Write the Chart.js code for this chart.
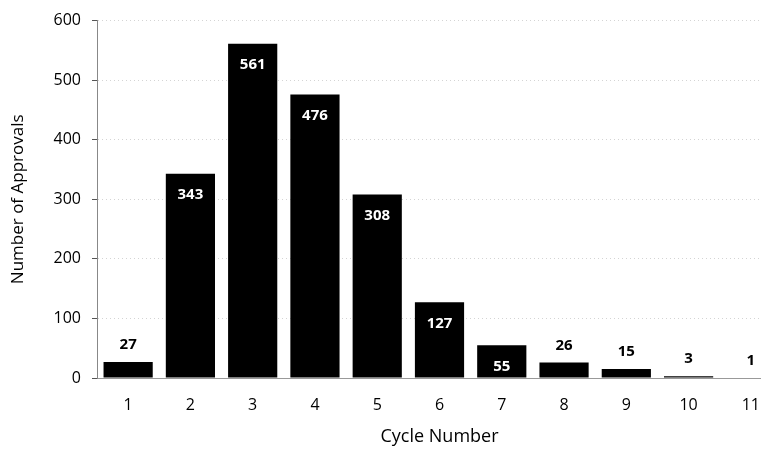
<!DOCTYPE html>
<html>
<head>
<meta charset="utf-8">
<script src="https://cdn.jsdelivr.net/npm/chart.js@4/dist/chart.umd.min.js"></script>
<style>
  html, body { margin: 0; padding: 0; background: #fff; overflow: hidden; }
  #wrap { width: 761px; height: 450px; overflow: hidden; }
  #box { width: 782px; height: 450px; }
</style>
</head>
<body>
<div id="wrap"><div id="box"><canvas id="c"></canvas></div></div>
<script>
// Approvals per cycle
const cycles = ['1', '2', '3', '4', '5', '6', '7', '8', '9', '10', '11'];
const approvals = [27, 343, 561, 476, 308, 127, 55, 26, 15, 3, 1];
const yTicks = [0, 100, 200, 300, 400, 500, 600];

const FONT = "'Open Sans', 'Liberation Sans', sans-serif";

// Value labels: white inside tall bars, black above short ones
const valueLabels = {
  id: 'valueLabels',
  afterDatasetsDraw(chart) {
    const ctx = chart.ctx;
    const meta = chart.getDatasetMeta(0);
    ctx.save();
    ctx.font = "bold 15px " + FONT;
    ctx.textAlign = 'center';
    ctx.textBaseline = 'middle';
    meta.data.forEach((bar, i) => {
      const v = approvals[i];
      if (v >= 50) {
        ctx.fillStyle = '#ffffff';
        ctx.fillText(String(v), bar.x, bar.y + 21);
      } else {
        ctx.fillStyle = '#000000';
        ctx.fillText(String(v), bar.x, bar.y - 17);
      }
    });
    ctx.restore();
  }
};

new Chart(document.getElementById('c'), {
  type: 'bar',
  data: {
    labels: cycles,
    datasets: [{
      data: approvals,
      backgroundColor: '#000000',
      borderWidth: 0,
      categoryPercentage: 1.0,
      barPercentage: 0.79
    }]
  },
  options: {
    responsive: true,
    maintainAspectRatio: false,
    animation: false,
    layout: { padding: { top: 19, right: 0, left: 0, bottom: 0 } },
    plugins: { legend: { display: false }, tooltip: { enabled: false } },
    scales: {
      x: {
        afterFit(axis) { axis.height = 72; },
        grid: { display: false, drawTicks: false },
        border: { display: true, color: '#999', width: 1, dash: [2, 3] },
        ticks: { color: '#000', padding: 18, font: { family: FONT, size: 16 } },
        title: { display: true, text: 'Cycle Number', color: '#000', padding: { top: 0, bottom: 2 },
                 font: { family: FONT, size: 18 } }
      },
      y: {
        min: 0, max: 600,
        afterBuildTicks(axis) { axis.ticks = yTicks.map(v => ({ value: v })); },
        afterFit(axis) { axis.width = 97; },
        grid: { color: '#d4d4d4', lineWidth: 1, tickLength: 5, tickColor: '#555',
                tickBorderDash: [], borderDash: [1, 5] },
        border: { display: true, color: '#888', dash: [1, 3] },
        ticks: { color: '#000', padding: 11, font: { family: FONT, size: 16 } },
        title: { display: true, text: 'Number of Approvals', color: '#000', padding: { top: 8, bottom: 0 },
                 font: { family: FONT, size: 17 } }
      }
    }
  },
  plugins: [valueLabels]
});
</script>
</body>
</html>
